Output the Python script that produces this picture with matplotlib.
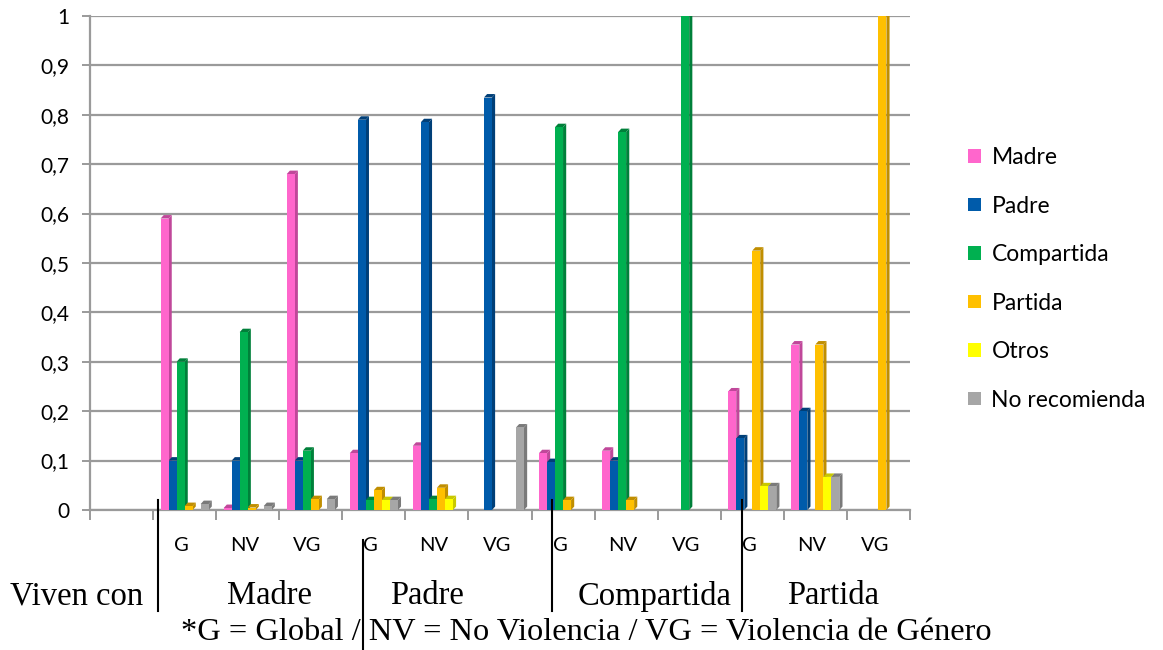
import matplotlib.pyplot as plt
import numpy as np
from matplotlib.patches import Patch
from matplotlib.ticker import FuncFormatter

# categories: first slot is empty (under "Viven con")
tick_labels = ["", "G", "NV", "VG", "G", "NV", "VG", "G", "NV", "VG", "G", "NV", "VG"]
groups = ["Viven con", "Madre", "Padre", "Compartida", "Partida"]

series = ["Madre", "Padre", "Compartida", "Partida", "Otros", "No recomienda"]
madre = [0, 0.59, 0.004, 0.68, 0.115, 0.13, 0, 0.115, 0.12, 0, 0.24, 0.335, 0]
padre = [0, 0.10, 0.10, 0.10, 0.79, 0.785, 0.835, 0.097, 0.10, 0, 0.145, 0.20, 0]
compartida = [0, 0.30, 0.36, 0.12, 0.02, 0.022, 0, 0.775, 0.765, 1.0, 0, 0, 0]
partida = [0, 0.008, 0.005, 0.022, 0.04, 0.045, 0, 0.02, 0.02, 0, 0.525, 0.335, 1.0]
otros = [0, 0, 0, 0, 0.02, 0.022, 0, 0, 0, 0, 0.048, 0.067, 0]
no_recomienda = [0, 0.012, 0.008, 0.022, 0.02, 0, 0.167, 0, 0, 0, 0.048, 0.067, 0]

colors = ["#FF66CC", "#005BAA", "#00B050", "#FFC000", "#FFFF00", "#A6A6A6"]
dark = ["#C0479A", "#003F78", "#00803A", "#C08E00", "#C8C800", "#7A7A7A"]

data = [madre, padre, compartida, partida, otros, no_recomienda]

fig = plt.figure(figsize=(11.63, 6.5), dpi=100)
ax = fig.add_axes([0.0774, 0.2154, 0.705, 0.76])

n = len(tick_labels)
x = np.arange(n)
bw = 0.127
dx, dy = 0.05, 0.007
for i, vals in enumerate(data):
    pos = x - 3 * bw + i * bw
    for xp, v in zip(pos, vals):
        if v <= 0:
            continue
        # side and top faces for a light 3D look
        ax.fill([xp + bw, xp + bw + dx, xp + bw + dx, xp + bw],
                [0, dy, v + dy, v], color=dark[i], lw=0, zorder=3)
        ax.fill([xp, xp + dx, xp + bw + dx, xp + bw],
                [v, v + dy, v + dy, v], color=dark[i], lw=0, zorder=3)
        ax.bar(xp, v, width=bw, align="edge", color=colors[i], lw=0, zorder=4)

ax.set_xlim(-0.5, n - 0.5)
ax.set_ylim(0, 1.0)
ax.set_yticks(np.arange(0, 1.01, 0.1))
ax.yaxis.set_major_formatter(FuncFormatter(
    lambda v, p: "0" if v == 0 else ("1" if abs(v - 1) < 1e-9 else f"{v:.1f}".replace(".", ","))))
ax.set_xticks(np.arange(-0.5, n, 1.0))
ax.set_xticklabels([])
ax.grid(axis="y", color="#9A9A9A", lw=1.6, zorder=0)
for s in ["top", "right"]:
    ax.spines[s].set_visible(False)
ax.spines["left"].set_color("#9A9A9A")
ax.spines["bottom"].set_color("#9A9A9A")
ax.spines["left"].set_linewidth(1.6)
ax.spines["bottom"].set_linewidth(1.6)
ax.tick_params(axis="y", colors="#9A9A9A", labelcolor="black", labelsize=15, length=6, width=1.4, pad=9)
ax.tick_params(axis="x", colors="#9A9A9A", length=7, width=1.4)
for lbl in ax.get_yticklabels():
    lbl.set_family("Lato")

# G / NV / VG labels under each category
for xi, lab in zip(x, tick_labels):
    if lab:
        ax.text(xi - 0.05, -0.072, lab, ha="center", va="center", fontsize=14.5,
                family="Lato", transform=ax.transData, clip_on=False)

# group names and separators (figure pixel coords)
W, H = 1163, 650
group_x = [77, 269, 427, 655, 833]
for gx, g in zip(group_x, groups):
    fig.text(gx / W, 1 - 596 / H, g, ha="center", va="center", fontsize=23.5,
             family="Liberation Serif")
fig.text(586 / W, 1 - 633 / H, "*G = Global / NV = No Violencia / VG = Violencia de Género",
         ha="center", va="center", fontsize=23.3, family="Liberation Serif")

sep_lines = [(158, 500, 611), (363, 540, 650), (552, 500, 611), (742, 500, 611)]
for lx, y0, y1 in sep_lines:
    fig.add_artist(plt.Line2D([lx / W, lx / W], [1 - y0 / H, 1 - y1 / H],
                              color="black", lw=1.5, transform=fig.transFigure))

handles = [Patch(facecolor=c, edgecolor="none") for c in colors]
leg = fig.legend(handles, series, loc="center left", bbox_to_anchor=(0.815, 0.571),
                 frameon=False, labelspacing=1.2, handlelength=0.55,
                 handleheight=0.55, handletextpad=0.45, prop={"family": "Lato", "size": 16.5})

fig.savefig("out.png", dpi=100)
